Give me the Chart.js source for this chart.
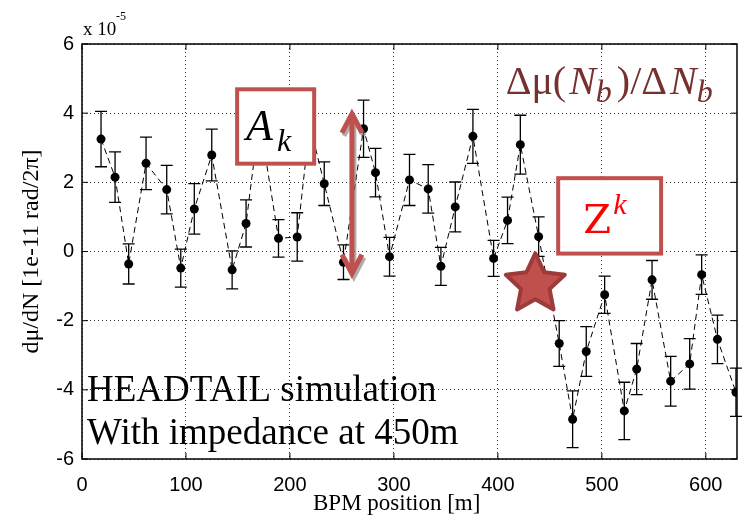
<!DOCTYPE html>
<html lang="en">
<head>
<meta charset="UTF-8">
<title>dmu/dN vs BPM position</title>
<style>
  html, body { margin: 0; padding: 0; background: #fff; }
  #chart { display: block; }
</style>
</head>
<body>
<canvas id="chart" width="742" height="522"></canvas>
<script src="https://cdn.jsdelivr.net/npm/chart.js@4/dist/chart.umd.min.js"></script>
<script>
// BPM positions [m] and measured dmu/dN (units of 1e-5) with error bars
const bpmPos = [18.3, 31.8, 44.9, 61.6, 81.5, 95, 108, 124.8, 144.4, 157.8,
  170.6, 189, 207, 219, 233, 251.5, 270.8, 282.3, 295.8, 315,
  333, 345.2, 359, 376, 395.9, 409.3, 421.6, 439.2, 459, 471.9,
  485, 502.7, 521.6, 533.5, 548.3, 566.2, 584.5, 596, 611.2, 629];
const dmuDN = [3.25, 2.15, -0.36, 2.55, 1.79, -0.48, 1.23, 2.79, -0.53, 0.81,
  3.85, 0.38, 0.42, 3.67, 1.96, -0.31, 3.55, 2.28, -0.15, 2.07,
  1.81, -0.43, 1.29, 3.33, -0.2, 0.9, 3.09, 0.43, -2.66, -4.85,
  -2.89, -1.25, -4.61, -3.4, -0.82, -3.75, -3.25, -0.67, -2.54, -4.07];
const dmuErr = [0.8, 0.73, 0.58, 0.76, 0.7, 0.55, 0.73, 0.75, 0.55, 0.68,
  0.75, 0.54, 0.7, 0.8, 0.63, 0.5, 0.83, 0.7, 0.56, 0.74,
  0.7, 0.55, 0.72, 0.78, 0.52, 0.67, 0.85, 0.57, 0.66, 0.82,
  0.72, 0.54, 0.83, 0.74, 0.56, 0.72, 0.73, 0.57, 0.7, 0.7];

const xTicks = [0, 100, 200, 300, 400, 500, 600];
const yTicks = [-6, -4, -2, 0, 2, 4, 6];
const xRange = [0, 630];
const yRange = [-6, 6];

const RED = '#c0504d';
const SERIF = '"Liberation Serif", "Times New Roman", serif';

const errorBars = {
  id: 'errorBars',
  beforeDatasetsDraw(chart) {
    const { ctx, scales: { x, y } } = chart;
    ctx.save();
    ctx.strokeStyle = '#000';
    ctx.lineWidth = 1.3;
    bpmPos.forEach((p, i) => {
      const px = x.getPixelForValue(p);
      const top = y.getPixelForValue(dmuDN[i] + dmuErr[i]);
      const bot = y.getPixelForValue(dmuDN[i] - dmuErr[i]);
      ctx.beginPath();
      ctx.moveTo(px, top); ctx.lineTo(px, bot);
      ctx.moveTo(px - 6, top); ctx.lineTo(px + 6, top);
      ctx.moveTo(px - 6, bot); ctx.lineTo(px + 6, bot);
      ctx.stroke();
    });
    ctx.restore();
  }
};

// solid box around the axes with short inward ticks (matlab style)
const frame = {
  id: 'frame',
  afterDatasetsDraw(chart) {
    const { ctx, chartArea: a, scales: { x, y } } = chart;
    ctx.save();
    ctx.strokeStyle = '#000';
    ctx.lineWidth = 1.5;
    ctx.strokeRect(a.left, a.top, a.right - a.left, a.bottom - a.top);
    ctx.lineWidth = 1;
    ctx.beginPath();
    xTicks.forEach(v => {
      const px = x.getPixelForValue(v);
      ctx.moveTo(px, a.bottom); ctx.lineTo(px, a.bottom - 6);
      ctx.moveTo(px, a.top); ctx.lineTo(px, a.top + 6);
    });
    yTicks.forEach(v => {
      const py = y.getPixelForValue(v);
      ctx.moveTo(a.left, py); ctx.lineTo(a.left + 6, py);
      ctx.moveTo(a.right, py); ctx.lineTo(a.right - 6, py);
    });
    ctx.stroke();

    ctx.fillStyle = '#000';
    ctx.textBaseline = 'alphabetic';
    // exponent label
    ctx.font = 'normal 19px ' + SERIF;
    ctx.fillText('x 10', a.left + 1, a.top - 9);
    ctx.font = 'normal 12px ' + SERIF;
    ctx.fillText('-5', a.left + 34, a.top - 24);
    // x axis title (sits a bit left of centre in the original)
    ctx.font = 'normal 23px ' + SERIF;
    ctx.textAlign = 'center';
    ctx.fillText('BPM position [m]', x.getPixelForValue(302.7), a.bottom + 51);
    ctx.restore();
  }
};

function star(ctx, cx, cy, R, r) {
  ctx.beginPath();
  for (let k = 0; k < 10; k++) {
    const rad = k % 2 === 0 ? R : r;
    const ang = -Math.PI / 2 + k * Math.PI / 5;
    const px = cx + rad * Math.cos(ang), py = cy + rad * Math.sin(ang);
    if (k === 0) ctx.moveTo(px, py); else ctx.lineTo(px, py);
  }
  ctx.closePath();
}

function arrow(ctx, x0, yTop, yBot) {
  ctx.beginPath();
  ctx.moveTo(x0, yTop + 4); ctx.lineTo(x0, yBot - 4);
  ctx.moveTo(x0 - 10, yTop + 19); ctx.lineTo(x0, yTop); ctx.lineTo(x0 + 10, yTop + 19);
  ctx.moveTo(x0 - 10, yBot - 19); ctx.lineTo(x0, yBot); ctx.lineTo(x0 + 10, yBot - 19);
  ctx.stroke();
}

const notes = {
  id: 'notes',
  afterDraw(chart) {
    const { ctx, scales: { x, y } } = chart;
    const X = v => x.getPixelForValue(v);
    const Y = v => y.getPixelForValue(v);
    ctx.save();
    ctx.textBaseline = 'alphabetic';

    // A_k box
    const ax0 = X(149.2), ax1 = X(223.3), ay0 = Y(4.69), ay1 = Y(2.54);
    ctx.fillStyle = '#fff';
    ctx.fillRect(ax0, ay0, ax1 - ax0, ay1 - ay0);
    ctx.strokeStyle = RED;
    ctx.lineWidth = 4;
    ctx.strokeRect(ax0, ay0, ax1 - ax0, ay1 - ay0);
    ctx.fillStyle = '#000';
    ctx.font = 'italic 44px ' + SERIF;
    ctx.fillText('A', ax0 + 9, ay0 + 51);
    ctx.font = 'italic 32px ' + SERIF;
    ctx.fillText('k', ax0 + 40, ay0 + 62);

    // double arrow
    ctx.lineCap = 'butt';
    ctx.lineJoin = 'miter';
    ctx.lineWidth = 5;
    ctx.strokeStyle = 'rgba(120,120,120,0.6)';
    arrow(ctx, X(259.6) + 2, Y(3.98) + 3, Y(-0.64) + 3);
    ctx.strokeStyle = RED;
    arrow(ctx, X(259.6), Y(3.98), Y(-0.64));

    // delta mu / delta N_b
    ctx.fillStyle = '#76302f';
    let tx = X(407.5), ty = Y(4.55);
    const parts = [
      ['\u0394\u03bc(', 'normal 40px ' + SERIF, 0, 3],
      ['N', 'italic 40px ' + SERIF, 0, 0],
      ['b', 'italic 32px ' + SERIF, 8, 5],
      [')/\u0394', 'normal 40px ' + SERIF, 0, 3],
      ['N', 'italic 40px ' + SERIF, 0, 0],
      ['b', 'italic 32px ' + SERIF, 8, 0]
    ];
    parts.forEach(([t, f, dy, gap]) => {
      ctx.font = f;
      ctx.fillText(t, tx, ty + dy);
      tx += ctx.measureText(t).width + gap;
    });

    // Z^k box
    const zx0 = X(458), zx1 = X(557), zy0 = Y(2.12), zy1 = Y(-0.06);
    ctx.fillStyle = '#fff';
    ctx.fillRect(zx0, zy0, zx1 - zx0, zy1 - zy0);
    ctx.strokeStyle = RED;
    ctx.lineWidth = 4;
    ctx.strokeRect(zx0, zy0, zx1 - zx0, zy1 - zy0);
    ctx.fillStyle = '#ff0000';
    ctx.font = 'normal 40px "DejaVu Serif", serif';
    ctx.fillText('Z', zx0 + 25, zy0 + 55);
    ctx.font = 'italic 30px ' + SERIF;
    ctx.fillText('k', zx0 + 55, zy0 + 36);

    // star marking the impedance
    ctx.lineJoin = 'round';
    star(ctx, X(436), Y(-0.95), 31, 15);
    ctx.fillStyle = RED;
    ctx.fill();
    ctx.strokeStyle = '#9c3b39';
    ctx.lineWidth = 4;
    ctx.stroke();

    // simulation note
    ctx.fillStyle = '#000';
    ctx.font = 'normal 37px ' + SERIF;
    ctx.fillText('HEADTAIL simulation', X(4.8), Y(-4.33));
    ctx.fillText('With impedance at 450m', X(4.8), Y(-5.57));
    ctx.restore();
  }
};

new Chart(document.getElementById('chart'), {
  type: 'scatter',
  data: {
    datasets: [{
      data: bpmPos.map((p, i) => ({ x: p, y: dmuDN[i] })),
      showLine: true,
      borderColor: '#000',
      borderWidth: 1,
      borderDash: [6, 4],
      pointRadius: 4.5,
      pointBackgroundColor: '#000',
      pointBorderWidth: 0
    }]
  },
  options: {
    responsive: false,
    animation: false,
    devicePixelRatio: 1,
    layout: { padding: { top: 44, right: 5, left: 0, bottom: 0 } },
    plugins: { legend: { display: false }, tooltip: { enabled: false } },
    scales: {
      x: {
        type: 'linear',
        min: xRange[0],
        max: xRange[1],
        afterBuildTicks: s => { s.ticks = xTicks.map(v => ({ value: v })); },
        afterFit: s => { s.height = 63; },
        grid: { color: '#333', lineWidth: 1, drawTicks: false },
        border: { display: false, dash: [1, 3] },
        ticks: {
          color: '#000',
          padding: 14,
          maxRotation: 0,
          font: { family: '"Liberation Sans", Arial, sans-serif', size: 20 }
        }
      },
      y: {
        min: yRange[0],
        max: yRange[1],
        afterBuildTicks: s => { s.ticks = yTicks.map(v => ({ value: v })); },
        afterFit: s => { s.width = 82; },
        grid: { color: '#333', lineWidth: 1, drawTicks: false },
        border: { display: false, dash: [1, 3] },
        ticks: {
          color: '#000',
          padding: 8,
          font: { family: '"Liberation Sans", Arial, sans-serif', size: 20 }
        },
        title: {
          display: true,
          text: 'd\u03bc/dN [1e-11 rad/2\u03c0]',
          color: '#000',
          font: { family: SERIF, size: 24 },
          padding: { top: 17, bottom: 0 }
        }
      }
    }
  },
  plugins: [errorBars, frame, notes]
});
</script>
</body>
</html>
